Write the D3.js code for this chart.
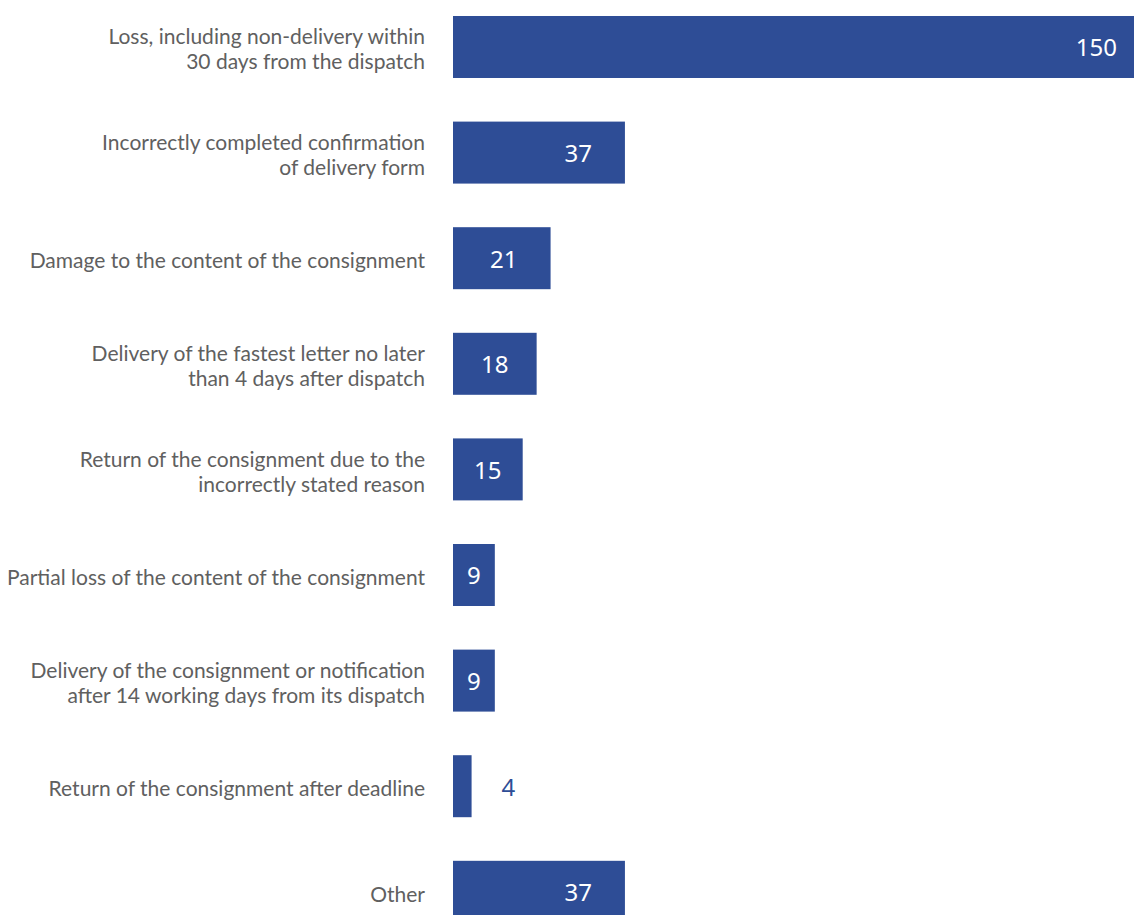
<!DOCTYPE html>
<html>
<head>
<meta charset="utf-8">
<script src="https://cdn.jsdelivr.net/npm/d3@7"></script>
<style>
  html, body { margin: 0; padding: 0; background: #ffffff; overflow: hidden; }
  svg { display: block; }
</style>
</head>
<body>
<svg id="chart" width="1134" height="915"></svg>
<script>
// Complaint reasons (line breaks mark where each label wraps)
const categories = [
  "Loss, including non-delivery within\n30 days from the dispatch",
  "Incorrectly completed confirmation\nof delivery form",
  "Damage to the content of the consignment",
  "Delivery of the fastest letter no later\nthan 4 days after dispatch",
  "Return of the consignment due to the\nincorrectly stated reason",
  "Partial loss of the content of the consignment",
  "Delivery of the consignment or notification\nafter 14 working days from its dispatch",
  "Return of the consignment after deadline",
  "Other"
];
const counts = [150, 37, 21, 18, 15, 9, 9, 4, 37];

const W = 1134, H = 915;
const barLeft = 453;
const barColor = "#2e4d96";
const labelColor = "#606060";
const catFont = "Lato, 'Noto Sans', sans-serif";
const valFont = "'Noto Sans', 'Open Sans', sans-serif";

const svg = d3.select("#chart");

const x = d3.scaleLinear().domain([0, 150]).range([0, 697]);
const y = d3.scaleBand()
  .domain(d3.range(categories.length))
  .range([16, 16 + 8 * 105.6 + 62])
  .paddingInner(0.413)
  .paddingOuter(0);

const rows = svg.append("g")
  .selectAll("g.row")
  .data(counts.map((v, i) => ({ v, i, cat: categories[i] })))
  .join("g")
  .attr("class", "row")
  .attr("transform", d => `translate(0,${y(d.i)})`);

// bars
rows.append("rect")
  .attr("x", barLeft)
  .attr("y", 0)
  .attr("width", d => x(d.v))
  .attr("height", y.bandwidth())
  .attr("fill", barColor);

// category labels, right-aligned next to the bars
const catSize = 21;
const lineH = 25;
rows.each(function(d) {
  const lines = d.cat.split("\n");
  const t = d3.select(this).append("text")
    .attr("text-anchor", "end")
    .attr("font-family", catFont)
    .attr("font-size", catSize)
    .attr("fill", labelColor);
  const mid = y.bandwidth() / 2 + 1.5;
  const first = mid - (lines.length - 1) * lineH / 2;
  lines.forEach((ln, k) => {
    t.append("tspan")
      .attr("x", barLeft - 28)
      .attr("y", first + k * lineH)
      .attr("dominant-baseline", "central")
      .text(ln);
  });
});

// value labels: inside the bar near its end, or just outside for tiny bars
rows.each(function(d) {
  const g = d3.select(this);
  const w = x(d.v);
  const t = g.append("text")
    .attr("font-family", valFont)
    .attr("font-size", 24)
    .attr("dominant-baseline", "central")
    .attr("y", y.bandwidth() / 2)
    .text(d.v);
  const tw = t.node().getComputedTextLength();
  if (w < tw + 24) {
    t.attr("x", barLeft + w + 30)
      .attr("text-anchor", "start")
      .attr("fill", barColor);
  } else {
    const cx = Math.max(w / 2, w - 33 - tw / 2);
    t.attr("x", barLeft + cx)
      .attr("text-anchor", "middle")
      .attr("fill", "#ffffff");
  }
});
</script>
</body>
</html>
